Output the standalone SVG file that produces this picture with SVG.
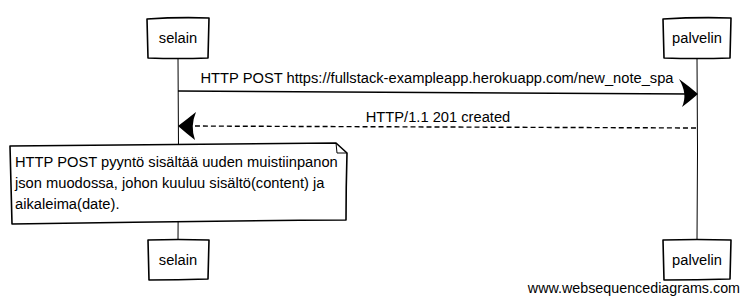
<svg xmlns="http://www.w3.org/2000/svg" width="746" height="303" viewBox="0 0 746 303">
  <style>
    .box { fill: #ffffff; stroke: #000000; stroke-width: 1.6; stroke-linejoin: round; }
    .life { fill: none; stroke: #000000; stroke-width: 1; }
    .msg { fill: none; stroke: #000000; stroke-width: 1.4; }
    .dash { stroke-dasharray: 5 3; }
    .head { fill: #000000; stroke: none; }
    .label { font-family: "Liberation Sans", Arial, sans-serif; font-size: 14.7px; fill: #000000; }
    .foot { font-family: "Liberation Sans", Arial, sans-serif; font-size: 14.3px; fill: #000000; }
  </style>

  <!-- lifelines -->
  <g id="lifelines">
    <path class="life" d="M178,58 L178.5,150 L178,240"/>
    <path class="life" d="M697,58 L697.5,150 L697,240"/>
  </g>

  <g id="participant-selain-top">
    <path class="box" d="M147,19 Q178,17 209,18 L208,58 Q178,59 148,58 Z"/>
    <text class="label" x="178" y="43" text-anchor="middle">selain</text>
  </g>
  <g id="participant-palvelin-top">
    <path class="box" d="M663,19 Q697,17 731,18 L730,58 Q697,59 664,58 Z"/>
    <text class="label" x="697" y="43" text-anchor="middle">palvelin</text>
  </g>

  <!-- connectors -->
  <g id="connectors">
    <path class="msg" d="M178,91 Q440,92 690,94"/>
    <path class="head" d="M679,79 Q690,87 698,94 Q690,101 682,107 Q688,94 679,79 Z"/>
    <text class="label" x="437" y="83" text-anchor="middle">HTTP POST https://fullstack-exampleapp.herokuapp.com/new_note_spa</text>

    <path class="msg dash" d="M696,128 Q440,127 186,126"/>
    <path class="head" d="M196,112 Q186,120 178,126 Q186,133 195,140 Q190,126 196,112 Z"/>
    <text class="label" x="438" y="122" text-anchor="middle">HTTP/1.1 201 created</text>
  </g>

  <g id="note">
    <path class="box" d="M10,146 Q170,145 336,143 L347,153 Q346,187 346,220 Q178,221 12,224 Q11,185 10,146 Z"/>
    <path class="life" d="M336,143 L337,153 L347,153"/>
    <text class="label" x="15" y="167">HTTP POST pyyntö sisältää uuden muistiinpanon</text>
    <text class="label" x="15" y="188">json muodossa, johon kuuluu sisältö(content) ja</text>
    <text class="label" x="15" y="209">aikaleima(date).</text>
  </g>

  <g id="participant-selain-bottom">
    <path class="box" d="M148,240 Q178,239 209,240 L208,279 Q178,280 149,280 Z"/>
    <text class="label" x="178" y="265" text-anchor="middle">selain</text>
  </g>
  <g id="participant-palvelin-bottom">
    <path class="box" d="M663,240 Q697,239 731,240 L730,279 Q697,280 664,280 Z"/>
    <text class="label" x="697" y="265" text-anchor="middle">palvelin</text>
  </g>

  <text class="foot" x="740" y="293" text-anchor="end">www.websequencediagrams.com</text>
</svg>
